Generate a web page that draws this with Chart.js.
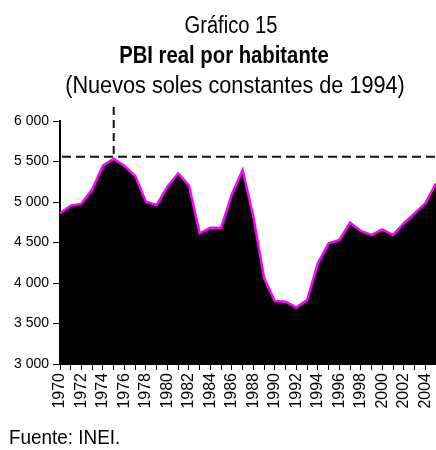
<!DOCTYPE html>
<html>
<head>
<meta charset="utf-8">
<script src="https://cdn.jsdelivr.net/npm/chart.js@4.4.1/dist/chart.umd.min.js"></script>
<style>
html,body{margin:0;padding:0;background:#fff;}
#wrap{position:relative;width:436px;height:450px;overflow:hidden;background:#fff;}
#c{position:absolute;left:0;top:0;}
.t{position:absolute;white-space:nowrap;color:#000;line-height:1;
   font-family:"Liberation Sans",Arial,sans-serif;}
.fit{transform-origin:50% 50%;}
.lf{transform-origin:0 50%;}
</style>
</head>
<body>
<div id="wrap">
  <canvas id="c" width="436" height="450"></canvas>
  <div class="t fit" data-w="93"  style="left:231px;top:13.5px;font-size:23px;">Gráfico 15</div>
  <div class="t fit" data-w="210" style="left:224px;top:43.5px;font-size:23px;font-weight:bold;">PBI real por habitante</div>
  <div class="t fit" data-w="340" style="left:235px;top:73.5px;font-size:23px;">(Nuevos soles constantes de 1994)</div>
  <div class="t lf" style="left:9px;top:426px;font-size:21px;transform:scaleX(0.9);">Fuente: INEI.</div>
</div>
<script>
// ---- data ----
const years = ['1970','1971','1972','1973','1974','1975','1976','1977','1978','1979',
               '1980','1981','1982','1983','1984','1985','1986','1987','1988','1989',
               '1990','1991','1992','1993','1994','1995','1996','1997','1998','1999',
               '2000','2001','2002','2003','2004','2005'];
const pbi = [4860,4955,4980,5157,5448,5535,5444,5321,5004,4963,
             5189,5354,5206,4613,4683,4683,5095,5395,4819,4058,
             3778,3770,3700,3790,4243,4490,4531,4745,4642,4593,
             4663,4593,4737,4860,4984,5231];
const yTicks = [3000,3500,4000,4500,5000,5500,6000];
const refLevel = 5559;   // nivel máximo (1975)
const refYear = '1975';

// center the title lines and fit them to the reference widths
document.querySelectorAll('.fit').forEach(el=>{
  const k = (+el.dataset.w) / el.offsetWidth;
  el.style.transform = 'translateX(-50%) scaleX(' + k.toFixed(3) + ')';
});

function fmt(v){
  return String(v).replace(/\B(?=(\d{3})+(?!\d))/g,' ');
}

const refLines = {
  id:'refLines',
  afterDatasetsDraw(chart){
    const {ctx, chartArea, scales:{x,y}} = chart;
    const py = y.getPixelForValue(refLevel);
    const px = x.getPixelForValue(years.indexOf(refYear));
    ctx.save();
    ctx.strokeStyle = '#111';
    ctx.lineWidth = 2;
    ctx.setLineDash([9,5]);
    ctx.beginPath();
    ctx.moveTo(chartArea.left+2, py);
    ctx.lineTo(chartArea.right, py);
    ctx.stroke();
    ctx.setLineDash([8,5]);
    ctx.beginPath();
    ctx.moveTo(px, chartArea.top-14);
    ctx.lineTo(px, py);
    ctx.stroke();
    ctx.restore();
  }
};

new Chart(document.getElementById('c'), {
  type:'line',
  data:{
    labels: years,
    datasets:[{
      data: pbi,
      borderColor:'#ff00ff',
      borderWidth:2.5,
      backgroundColor:'#000',
      fill:'start',
      tension:0,
      pointRadius:0,
      pointHoverRadius:0
    }]
  },
  options:{
    responsive:false,
    animation:false,
    events:[],
    layout:{padding:{top:121,left:0,right:0,bottom:40}},
    plugins:{legend:{display:false},tooltip:{enabled:false},title:{display:false}},
    scales:{
      x:{
        type:'category',
        offset:false,
        ticks:{
          autoSkip:false, maxRotation:90, minRotation:90,
          color:'#000', padding:3,
          font:{family:'"Liberation Sans", Arial, sans-serif', size:16},
          callback(v,i){ return i%2===0 ? years[i] : ''; }
        },
        grid:{drawOnChartArea:false, drawTicks:true, tickLength:6, color:'#000', lineWidth:1},
        border:{display:true, color:'#000', width:2},
        afterFit(s){ s.height = 46; s.paddingRight = 0; s.paddingLeft = 0; }
      },
      y:{
        min:3000, max:6000,
        afterBuildTicks(s){ s.ticks = yTicks.map(v=>({value:v})); },
        ticks:{
          color:'#000', padding:4,
          font:{family:'"Liberation Sans", Arial, sans-serif', size:14},
          callback(v){ return fmt(v); }
        },
        grid:{drawOnChartArea:false, drawTicks:true, tickLength:7, color:'#000', lineWidth:1},
        border:{display:true, color:'#000', width:2},
        afterFit(s){ s.width = 60; s.paddingTop = 0; s.paddingBottom = 0; }
      }
    }
  },
  plugins:[refLines]
});
</script>
</body>
</html>
